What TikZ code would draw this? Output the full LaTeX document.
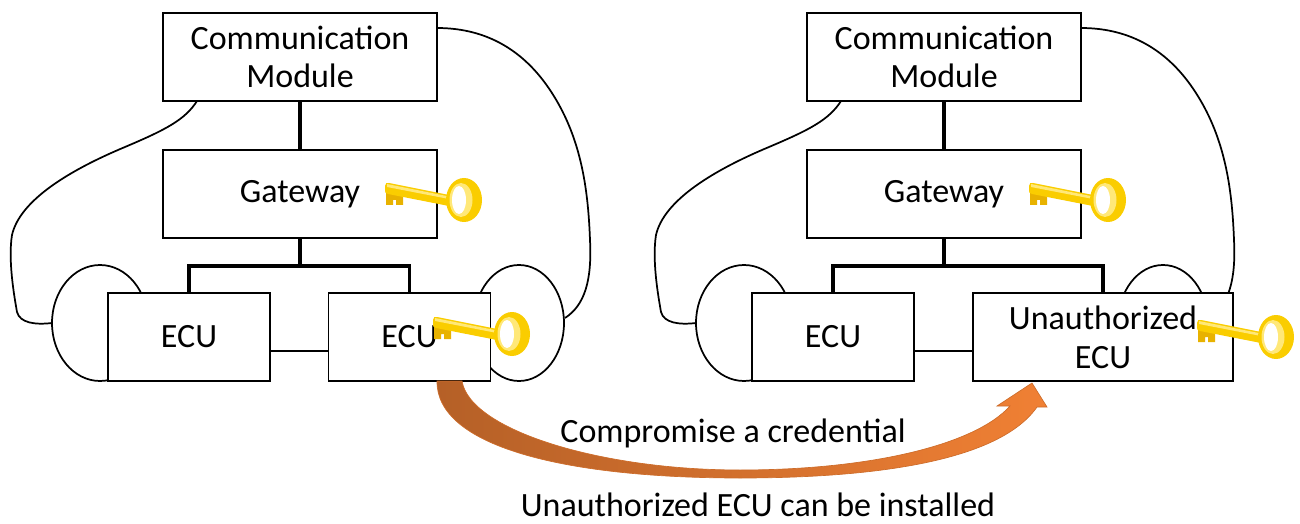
\documentclass[tikz,border=0pt]{standalone}
\usepackage{fontspec}
\setmainfont{Carlito}

\definecolor{keygold}{RGB}{250,205,0}
\definecolor{keydark}{RGB}{232,178,0}
\definecolor{keylight}{RGB}{255,232,120}
\definecolor{arrowdark}{RGB}{181,96,39}
\definecolor{arrowlight}{RGB}{240,128,52}
\definecolor{arrowedge}{RGB}{205,108,42}

\tikzset{
  body/.style={line width=1.3pt},
  % car outline with both wheels
  carbody/.pic={
    \draw[body] (197,101) .. controls (185,120) and (165,130) .. (125,147) .. controls (70,170) and (20,200) .. (12,235) .. controls (8,260) and (14,295) .. (17,312) .. controls (20,323) and (35,325) .. (52,323);
    \draw[body] (437,28) .. controls (480,28) and (520,45) .. (550,90) .. controls (580,135) and (588,185) .. (590,240) .. controls (592,280) and (585,305) .. (565,318);
    \draw[body] (100,323) ellipse [x radius=48, y radius=58];
    \draw[body] (519,323) ellipse [x radius=45, y radius=58];
  },
  % key, placed at the upper end of its shaft
  goldkey/.pic={
    \fill[keydark] (1,9) -- (1,22) -- (8,22) -- (8,17) -- (11,17) -- (11,22) -- (18,22) -- (18,12) -- cycle;
    \fill[keygold] (0,3) .. controls (0,0) and (2,-0.5) .. (4,0) -- (64,12) -- (64,23) -- (3,11) .. controls (0,10.5) and (0,9) .. (0,7) -- cycle;
    \fill[keylight] (2,1) -- (64,13.5) -- (64,16) -- (2,4) -- cycle;
    \fill[keygold] (79,17) ellipse [x radius=18, y radius=22];
    \fill[keylight] (76,17) ellipse [x radius=11.5, y radius=17];
    \fill[white] (74,17) ellipse [x radius=7, y radius=14];
  }
}

\begin{document}
\begin{tikzpicture}[x=0.75pt,y=0.75pt,yscale=-1,xscale=1,
  box/.style={draw, line width=1.4pt, fill=white, minimum height=66pt, align=center, inner sep=2pt,
    font=\fontsize{25.5}{29}\selectfont},
  trunk/.style={line width=3pt},
  bus/.style={line width=2.5pt},
  thinlink/.style={line width=1.2pt},
  caption/.style={font=\fontsize{25.5}{29}\selectfont, inner sep=0pt}]
\useasboundingbox (0,0) rectangle (1300,524);

%Car outlines
\pic[transform shape] at (0,0) {carbody};
\pic[transform shape] at (644,0) {carbody};

%Left car
\node[box, minimum width=205.5pt] (comA) at (300,57) {Communication\\Module};
\node[box, minimum width=205.5pt] (gwA) at (300,194) {Gateway};
\node[box, minimum width=121.5pt] (ecuA) at (189,337) {ECU};
\node[box, minimum width=121.5pt] (ecuB) at (409.5,337) {ECU};

\draw[trunk] (comA.south) -- (gwA.north);
\draw[bus] (gwA.south) -- ++(0,27) coordinate (busA);
\draw[bus] (ecuA.north) |- (busA) -| (ecuB.north);
\draw[thinlink] ([yshift=10.5pt]ecuA.east) -- ([yshift=10.5pt]ecuB.west);

%Right car
\node[box, minimum width=205.5pt] (comB) at (944,57) {Communication\\Module};
\node[box, minimum width=205.5pt] (gwB) at (944,194) {Gateway};
\node[box, minimum width=121.5pt] (ecuC) at (833,337) {ECU};
\node[box, minimum width=195pt] (rogue) at (1103,337) {Unauthorized\\ECU};

\draw[trunk] (comB.south) -- (gwB.north);
\draw[bus] (gwB.south) -- ++(0,27) coordinate (busB);
\draw[bus] (ecuC.north) |- (busB) -| (rogue.north);
\draw[thinlink] ([yshift=10.5pt]ecuC.east) -- ([yshift=10.5pt]rogue.west);

%Keys
\pic[transform shape] at (385,183) {goldkey};
\pic[transform shape] at (433,317) {goldkey};
\pic[transform shape] at (1029,183) {goldkey};
\pic[transform shape] at (1197,320) {goldkey};

%Curved block arrow
\draw[arrowedge, line width=0.5pt, left color=arrowdark, right color=arrowlight]
  (437,381) -- (462,381) .. controls (470,430) and (600,470) .. (740,470)
  .. controls (870,470) and (975,445) .. (1010,406) -- (997,406) -- (1032,383) -- (1047,407) -- (1037,407)
  .. controls (1000,460) and (880,478) .. (740,478)
  .. controls (560,478) and (436,445) .. (437,381) -- cycle;

% Text Node
\node[caption] (stepA) at (733,433) {Compromise a credential};
% Text Node
\node[caption] (stepB) at (758,505) {Unauthorized ECU can be installed};
\end{tikzpicture}
\end{document}
